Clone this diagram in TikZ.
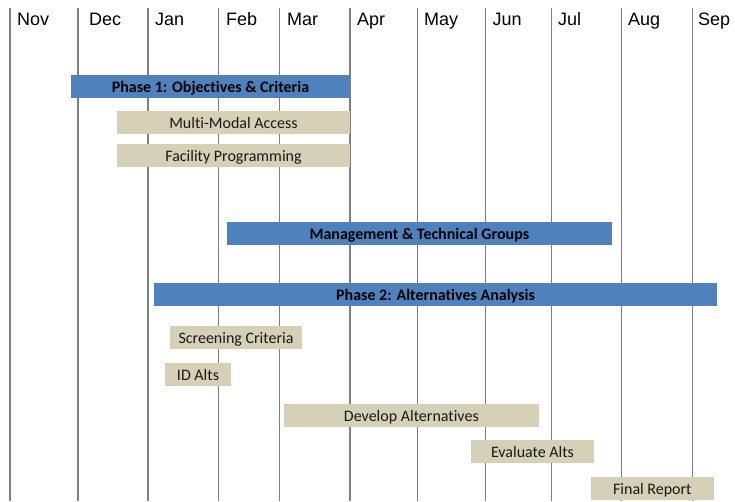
\documentclass[tikz,border=0pt]{standalone}
\usepackage{fontspec}
\setmainfont{Carlito}[Ligatures={NoCommon}]
\newfontfamily\monthfont{Liberation Sans}
\definecolor{barblue}{HTML}{4F81BD}
\definecolor{bartan}{HTML}{D6D0B6}
\definecolor{gridgray}{HTML}{7F7F7F}
\tikzset{
  gridthick/.style={draw=gridgray, line width=1.6pt},
  gridthin/.style={draw=gridgray, line width=1.1pt},
  monthlabel/.style={anchor=base west, inner sep=0pt, font=\monthfont\fontsize{18}{20}\selectfont},
  barbase/.style={draw=none, inner sep=0pt, outer sep=0pt, anchor=north west,
    minimum height=22.6pt, text height=11.6pt, text depth=0pt},
  phasebar/.style={barbase, fill=barblue, font=\bfseries\fontsize{16}{18}\selectfont, text=black},
  taskbar/.style={barbase, fill=bartan, font=\fontsize{16}{18}\selectfont, text=black!90}
}
\begin{document}
\begin{tikzpicture}[x=1pt, y=-1pt]
\useasboundingbox (0,0) rectangle (735,501);
% grid lines
\foreach \xx/\nm in {10/nov, 78/dec, 147.7/jan, 350/apr} {
  \coordinate (\nm top) at (\xx,8);
  \coordinate (\nm bot) at (\xx,501);
  \draw[gridthick] (\nm top) -- (\nm bot);
}
\foreach \xx/\nm in {218.7/feb, 279.3/mar, 417.3/may, 485.3/jun, 551.3/jul, 621.3/aug, 692.3/sep} {
  \coordinate (\nm top) at (\xx,8);
  \coordinate (\nm bot) at (\xx,501);
  \draw[gridthin] (\nm top) -- (\nm bot);
}
% month labels
\node[monthlabel] (lnov) at (17,25) {Nov};
\node[monthlabel] (ldec) at (89,25) {Dec};
\node[monthlabel] (ljan) at (155,25) {Jan};
\node[monthlabel] (lfeb) at (226,25) {Feb};
\node[monthlabel] (lmar) at (287,25) {Mar};
\node[monthlabel] (lapr) at (357,25) {Apr};
\node[monthlabel] (lmay) at (424,25) {May};
\node[monthlabel] (ljun) at (492.5,25) {Jun};
\node[monthlabel] (ljul) at (558,25) {Jul};
\node[monthlabel] (laug) at (628,25) {Aug};
\node[monthlabel] (lsep) at (698,25) {Sep};
% bars
\node[phasebar, minimum width=279pt] (phase1) at (71,75.3) {Phase 1: Objectives \& Criteria};
\node[taskbar, minimum width=233pt] (mma) at (117,111.3) {Multi-Modal Access};
\node[taskbar, minimum width=233pt] (fp) at (117,144) {Facility Programming};
\node[phasebar, minimum width=384.7pt] (mtg) at (227,222) {Management \& Technical Groups};
\node[phasebar, minimum width=563pt] (phase2) at (154,283) {Phase 2: Alternatives Analysis};
\node[taskbar, minimum width=132pt] (sc) at (170,326) {Screening Criteria};
\node[taskbar, minimum width=66pt] (ida) at (165,363) {ID Alts};
\node[taskbar, minimum width=254.7pt] (dev) at (284,404) {Develop Alternatives};
\node[taskbar, minimum width=123pt] (eval) at (471,440) {Evaluate Alts};
\node[taskbar, minimum width=122.7pt] (final) at (591,477) {Final Report};
\end{tikzpicture}
\end{document}
